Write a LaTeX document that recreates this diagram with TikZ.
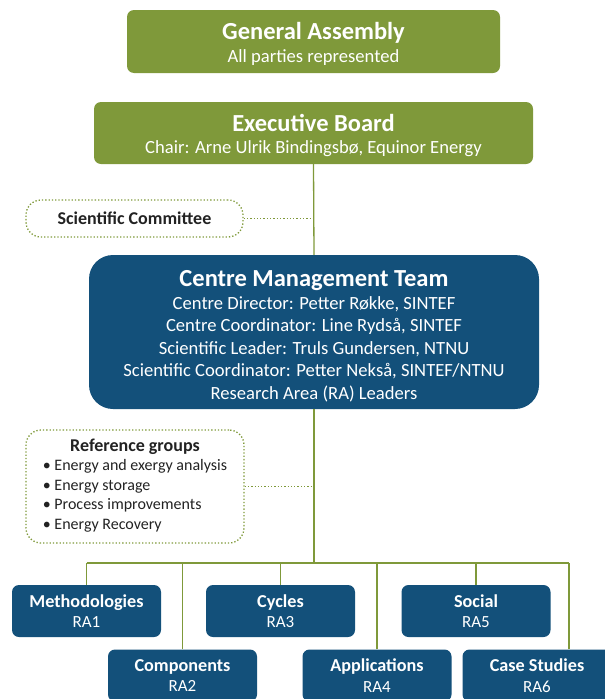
\documentclass[tikz,border=0pt]{standalone}
\usepackage{fontspec}
\setmainfont{Carlito}
\definecolor{boardgreen}{HTML}{7F993A}
\definecolor{teamblue}{HTML}{13507A}
\definecolor{notetext}{HTML}{222222}
\def\titlefont{\fontsize{24.5}{26}\selectfont\bfseries}
\def\subfont{\fontsize{18.6}{22.5}\selectfont}
\begin{document}
\begin{tikzpicture}[x=1pt,y=-1pt,
    greenbox/.style={fill=boardgreen, rounded corners=7pt, text=white, align=center, inner sep=0pt, font=\subfont},
    teambox/.style={fill=teamblue, rounded corners=24pt, text=white, align=center, inner sep=0pt, font=\subfont},
    areabox/.style={fill=teamblue, rounded corners=7pt, text=white, align=center, inner sep=0pt,
        minimum width=149pt, minimum height=52pt, font=\fontsize{17}{20.5}\selectfont},
    notebox/.style={draw=boardgreen, dotted, line width=1.3pt, rounded corners=15pt, text=notetext, inner sep=0pt},
    link/.style={draw=boardgreen, line width=1.3pt},
    dotlink/.style={link, dotted}]
    \clip (0,0) rectangle (605,699);
    \useasboundingbox (0,0) rectangle (605,699);

    % top of the tree
    \node[greenbox, minimum width=373pt, minimum height=63pt] (assembly) at (313.5,41.5)
        {{\titlefont\rule{0pt}{22pt}General Assembly}\\[0pt]All parties represented};
    \node[greenbox, minimum width=439pt, minimum height=62pt] (board) at (313.5,133)
        {{\titlefont\rule{0pt}{22pt}Executive Board}\\[0pt]Chair: Arne Ulrik Bindingsbø, Equinor Energy};
    \node[notebox, minimum width=217pt, minimum height=37pt, font=\fontsize{18}{20}\selectfont\bfseries] (committee) at (134.5,218.5)
        {Scientific Committee};
    \node[teambox, minimum width=450pt, minimum height=154pt] (team) at (314,332)
        {{\titlefont\rule{0pt}{24pt}Centre Management Team}\\[0.3pt]
         Centre Director: Petter Røkke, SINTEF\\
         Centre Coordinator: Line Rydså, SINTEF\\
         Scientific Leader: Truls Gundersen, NTNU\\
         Scientific Coordinator: Petter Nekså, SINTEF/NTNU\\
         Research Area (RA) Leaders};
    \node[notebox, minimum width=218pt, minimum height=113pt, font=\fontsize{16}{19.5}\selectfont] (refgroups) at (135,486.5)
        {\begin{tabular}{@{}c@{}}
            {\fontsize{18}{19.5}\selectfont\bfseries Reference groups}\\
            \begin{tabular}{@{}l@{}}
                • Energy and exergy analysis\\
                • Energy storage\\
                • Process improvements\\
                • Energy Recovery
            \end{tabular}
         \end{tabular}};

    % research areas
    \node[areabox] (ra1) at (86.5,611) {{\fontsize{18.2}{20}\selectfont\bfseries Methodologies}\\RA1};
    \node[areabox] (ra3) at (280.5,611) {{\fontsize{18.2}{20}\selectfont\bfseries Cycles}\\RA3};
    \node[areabox] (ra5) at (476,611) {{\fontsize{18.2}{20}\selectfont\bfseries Social}\\RA5};
    \node[areabox] (ra2) at (182.5,675.5) {{\fontsize{18.2}{20}\selectfont\bfseries Components}\\RA2};
    \node[areabox] (ra4) at (377,675.5) {{\fontsize{18.2}{20}\selectfont\bfseries Applications}\\RA4};
    \node[areabox] (ra6) at (537,675.5) {{\fontsize{18.2}{20}\selectfont\bfseries Case Studies}\\RA6};

    \coordinate (bus) at (314,563);
    \coordinate (ra6top) at ([xshift=32pt]ra6.north);

    % connectors
    \draw[link] (board.south) -- (team.north);
    \draw[link] (team.south) -- (bus);
    \draw[dotlink] (committee.east) -- (committee.east -| bus);
    \draw[dotlink] (refgroups.east) -- (refgroups.east -| bus);
    \draw[link] (ra1.north |- bus) -- (ra6top |- bus);
    \foreach \ra in {ra1,ra2,ra3,ra4,ra5}
        \draw[link] (\ra.north) -- (\ra.north |- bus);
    \draw[link] (ra6top) -- (ra6top |- bus);
\end{tikzpicture}
\end{document}
